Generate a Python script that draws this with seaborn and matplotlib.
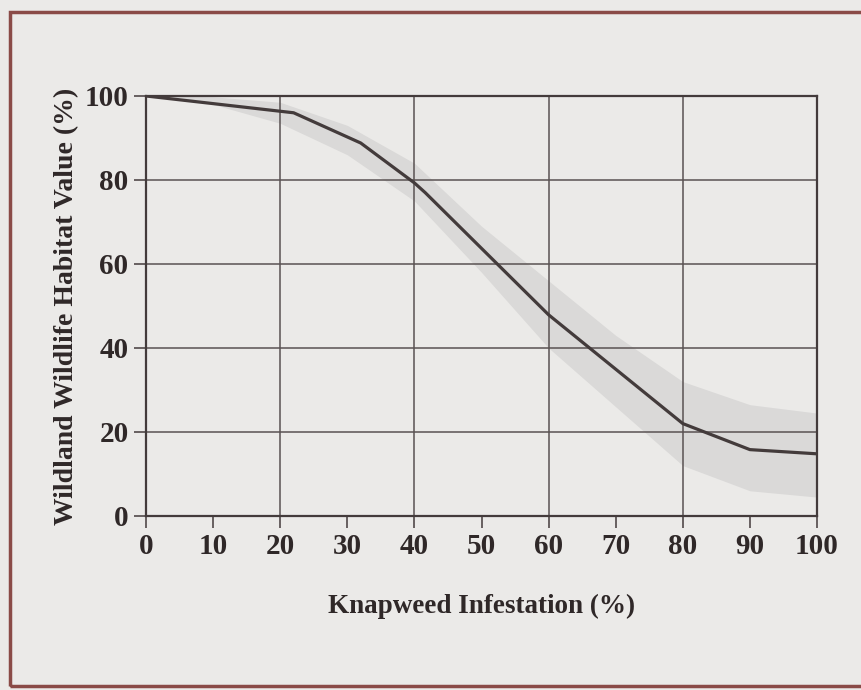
import numpy as np
import pandas as pd
import matplotlib
matplotlib.use("Agg")
import matplotlib.pyplot as plt
import matplotlib.patches as patches
import seaborn as sns

# curve
infestation = [0, 22, 32, 40, 41.6, 60, 80, 90, 100]
habitat_value = [100, 96, 88.8, 79.3, 77, 47.9, 22, 15.8, 14.8]

# grey uncertainty band
band_x = [0, 5, 10, 20, 30, 40, 50, 60, 70, 80, 90, 100]
band_upper = [100, 100, 99.8, 98.5, 93, 84, 69, 56, 43, 32, 26.5, 24.5]
band_lower = [100, 99.5, 98, 93.5, 86, 75, 58, 40, 26, 12, 6, 4.5]

x_ticks = [0, 10, 20, 30, 40, 50, 60, 70, 80, 90, 100]
y_ticks = [0, 20, 40, 60, 80, 100]

BG = "#ebeae8"
INK = "#433b3b"
GRID = "#5a5252"
TEXT = "#2f2828"

sns.set_theme(style="ticks")
plt.rcParams['font.family'] = ['Liberation Serif', 'DejaVu Serif']
plt.rcParams['font.weight'] = 'bold'

df = pd.DataFrame({"x": infestation, "y": habitat_value})

fig = plt.figure(figsize=(8.62, 6.90), dpi=100, facecolor=BG)
ax = fig.add_axes([0.1694, 0.2522, 0.9478 - 0.1694, 0.8609 - 0.2522])
ax.set_facecolor(BG)

ax.fill_between(band_x, band_lower, band_upper, color="#dad9d8", lw=0, zorder=1)

# grid
for gx in [20, 40, 60, 80]:
    ax.axvline(gx, color=GRID, lw=1.1, zorder=2)
for gy in [20, 40, 60, 80]:
    ax.axhline(gy, color=GRID, lw=1.1, zorder=2)

sns.lineplot(data=df, x="x", y="y", color=INK, lw=2.3, ax=ax, zorder=3)

ax.set_xlim(0, 100)
ax.set_ylim(0, 100)
ax.set_xticks(x_ticks)
ax.set_xticklabels([str(t) for t in x_ticks])
ax.set_yticks(y_ticks)
ax.set_yticklabels([str(t) for t in y_ticks])

for s in ax.spines.values():
    s.set_color(INK)
    s.set_linewidth(1.6)

ax.tick_params(axis="both", direction="out", length=8.6, width=1.1, color=INK,
               labelsize=21, labelcolor=TEXT, pad=4)

ax.set_xlabel("Knapweed Infestation (%)", fontsize=19.5, fontweight="bold",
              color=TEXT, labelpad=24)
ax.set_ylabel("Wildland Wildlife Habitat Value (%)", fontsize=20, fontweight="bold",
              color=TEXT, labelpad=4)

# outer frame of the scanned page
frame = patches.Rectangle((10 / 862, 4 / 690), 1.0, 674 / 690, transform=fig.transFigure,
                          fill=False, edgecolor="#8a4b47", lw=2.5)
fig.patches.append(frame)

fig.savefig("out.png", dpi=100, facecolor=BG)
